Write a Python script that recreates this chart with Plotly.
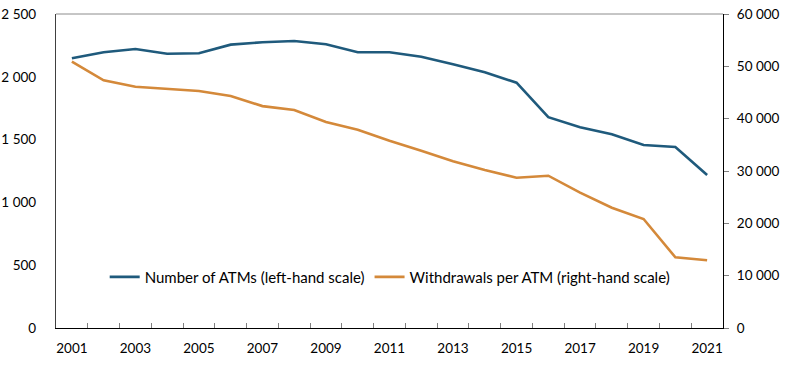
import plotly.graph_objects as go

years = list(range(2001, 2022))
atms = [2147, 2195, 2221, 2184, 2187, 2256, 2275, 2285, 2259, 2195, 2195,
        2160, 2100, 2036, 1953, 1678, 1598, 1542, 1457, 1441, 1218]
withdrawals = [50900, 47330, 46110, 45670, 45290, 44330, 42400, 41660, 39360, 37900, 35800,
               33890, 31850, 30190, 28720, 29100, 25860, 22990, 20830, 13510, 12940]
left_ticks = [0, 500, 1000, 1500, 2000, 2500]
left_text = ["0", "500", "1 000", "1 500", "2 000", "2 500"]
right_ticks = [0, 10000, 20000, 30000, 40000, 50000, 60000]
right_text = ["0", "10 000", "20 000", "30 000", "40 000", "50 000", "60 000"]
label_years = [str(y) if y % 2 == 1 else "" for y in years]
boundaries = [y + 0.5 for y in years[:-1]]

BLUE = "#1f5a7c"
ORANGE = "#d4893a"
FONT = "Lato"

fig = go.Figure()
fig.add_trace(go.Scatter(x=years, y=atms, mode="lines", name="Number of ATMs (left-hand scale)",
                         line=dict(color=BLUE, width=2.6), yaxis="y"))
fig.add_trace(go.Scatter(x=years, y=withdrawals, mode="lines", name="Withdrawals per ATM (right-hand scale)",
                         line=dict(color=ORANGE, width=2.6), yaxis="y2"))

fig.update_layout(
    width=797, height=365,
    margin=dict(l=56, r=74, t=14, b=37, autoexpand=False),
    paper_bgcolor="white", plot_bgcolor="white",
    font=dict(family=FONT, size=13.5, color="#000000"),
    showlegend=True,
    legend=dict(orientation="h", x=0.073, y=0.162, xanchor="left", yanchor="middle",
                bgcolor="rgba(0,0,0,0)", font=dict(size=15), itemwidth=30, tracegroupgap=0),
    xaxis=dict(range=[2000.5, 2021.5], tickmode="array", tickvals=years, ticktext=label_years,
               ticks="", showgrid=False, zeroline=False, showline=True, linecolor="#000000",
               linewidth=1.3, ticklabelstandoff=8, automargin=False, ticklabeloverflow="allow",
               minor=dict(tickmode="array", tickvals=boundaries, ticks="inside", ticklen=5,
                          tickcolor="#808080", showgrid=False)),
    yaxis=dict(range=[0, 2500], tickmode="array", tickvals=left_ticks, ticktext=left_text,
               showgrid=False, zeroline=False, automargin=False, ticklabeloverflow="allow",
               showline=True, linecolor="#404040", linewidth=1.3, ticks="", ticklabelstandoff=16),
    yaxis2=dict(range=[0, 60000], tickmode="array", tickvals=right_ticks, ticktext=right_text,
                overlaying="y", side="right", automargin=False, ticklabeloverflow="allow",
                showgrid=False, zeroline=False, showline=True, linecolor="#000000", linewidth=1.3,
                ticks="outside", ticklen=5, tickcolor="#808080", ticklabelstandoff=5),
    shapes=[dict(type="line", xref="paper", yref="paper", x0=0, x1=1, y0=1, y1=1,
                 line=dict(color="#8c8c8c", width=1))],
)

fig.write_html("out.html", config={"displayModeBar": False},
               post_script="document.body.style.margin='0';")
